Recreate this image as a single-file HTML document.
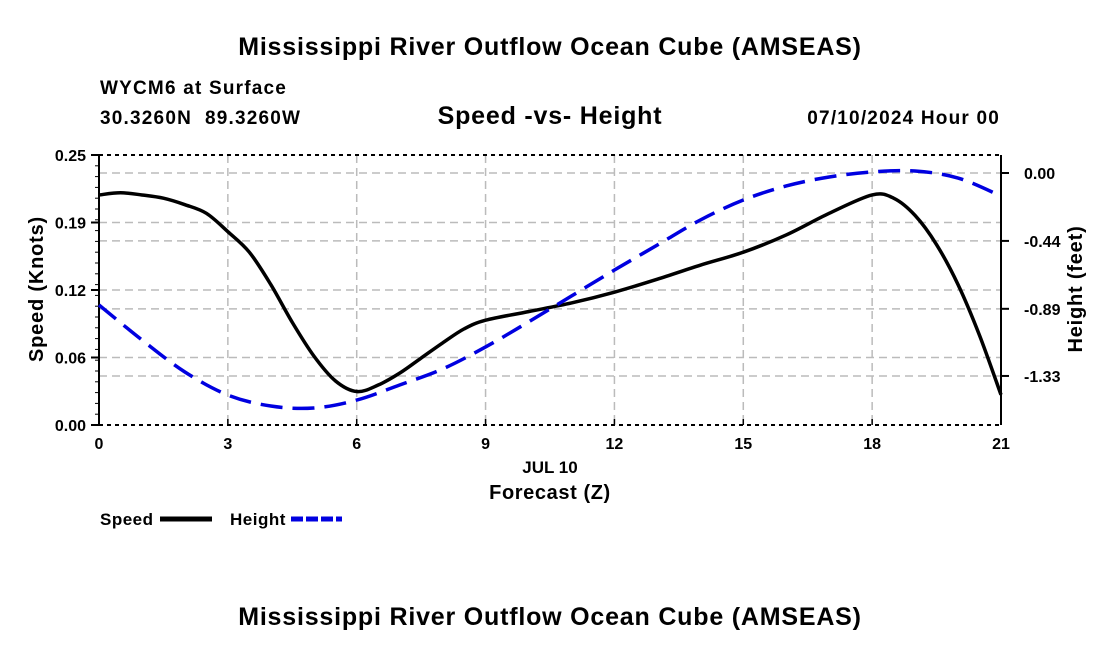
<!DOCTYPE html>
<html><head><meta charset="utf-8"><style>
body{margin:0;background:#fff;}
svg{display:block;font-family:"Liberation Sans",Arial,sans-serif;font-weight:bold;}
</style></head><body>
<svg id="chart" width="1100" height="650" viewBox="0 0 1100 650">
<text x="550" y="55" font-size="25" letter-spacing="0.8" text-anchor="middle">Mississippi River Outflow Ocean Cube (AMSEAS)</text>
<text x="100" y="94" font-size="19" letter-spacing="1.2">WYCM6 at Surface</text>
<text x="100" y="124" font-size="19" letter-spacing="1.2" xml:space="preserve" style="white-space:pre">30.3260N  89.3260W</text>
<text x="550" y="124" font-size="25" letter-spacing="0.8" text-anchor="middle">Speed -vs- Height</text>
<text x="1000" y="124" font-size="19" letter-spacing="1.2" text-anchor="end">07/10/2024 Hour 00</text>
<g id="grid"></g>
<g id="axes"></g>
<g id="series"></g>
<text x="550" y="473" font-size="17" text-anchor="middle">JUL 10</text>
<text x="550" y="499" font-size="20" letter-spacing="0.6" text-anchor="middle">Forecast (Z)</text>
<text transform="translate(43,289) rotate(-90)" font-size="20" letter-spacing="0.8" text-anchor="middle">Speed (Knots)</text>
<text transform="translate(1082,289) rotate(-90)" font-size="20" letter-spacing="0.8" text-anchor="middle">Height (feet)</text>
<g><text x="100" y="525" font-size="17" letter-spacing="0.5">Speed</text><line x1="160" y1="519" x2="212" y2="519" stroke="#000" stroke-width="5"/></g>
<g><text x="230" y="525" font-size="17" letter-spacing="0.5">Height</text><line x1="291" y1="519" x2="342" y2="519" stroke="#0000e0" stroke-width="5" stroke-dasharray="12,3"/></g>
<text x="550" y="625" font-size="25" letter-spacing="0.8" text-anchor="middle">Mississippi River Outflow Ocean Cube (AMSEAS)</text>
</svg>
<script>
const hours=[0,0.5,1,1.5,2,2.5,3,3.5,4,4.5,5,5.5,6,6.5,7,7.5,8,8.5,9,10,11,12,13,14,15,16,17,18,18.5,19,19.5,20,20.5,21];
const speed=[0.213,0.215,0.213,0.210,0.204,0.196,0.179,0.160,0.130,0.095,0.064,0.041,0.031,0.037,0.048,0.062,0.076,0.089,0.097,0.105,0.113,0.123,0.135,0.148,0.160,0.176,0.196,0.213,0.210,0.194,0.167,0.130,0.083,0.028];
const heightHours=[0,1,2,3,4,5,6,7,8,9,10,11,12,13,14,15,16,17,18,19,20,21];
const heightFt=[-0.865,-1.094,-1.304,-1.455,-1.527,-1.54,-1.488,-1.389,-1.284,-1.14,-0.976,-0.806,-0.636,-0.472,-0.308,-0.177,-0.085,-0.026,0.007,0.013,-0.033,-0.151];
const xTicks=[0,3,6,9,12,15,18,21];
const leftTicks=[0,0.0625,0.125,0.1875,0.25];
const leftLabels=["0.00","0.06","0.12","0.19","0.25"];
const rightTicks=[0,-0.445,-0.89,-1.33];
const rightLabels=["0.00","-0.44","-0.89","-1.33"];
const X0=99,X1=1001,Y0=425,Y1=155;
const xs=h=>X0+h/21*(X1-X0);
const yL=v=>Y0-v/0.25*(Y0-Y1);
const yR=v=>173-v*152.6;
const NS="http://www.w3.org/2000/svg";
function mk(parent,tag,attrs){const e=document.createElementNS(NS,tag);for(const k in attrs)e.setAttribute(k,attrs[k]);document.getElementById(parent).appendChild(e);return e;}
function smooth(pts){let d='M'+pts[0][0]+','+pts[0][1];for(let i=0;i<pts.length-1;i++){const p0=pts[Math.max(i-1,0)],p1=pts[i],p2=pts[i+1],p3=pts[Math.min(i+2,pts.length-1)];
const c1x=p1[0]+(p2[0]-p0[0])/6,c1y=p1[1]+(p2[1]-p0[1])/6,c2x=p2[0]-(p3[0]-p1[0])/6,c2y=p2[1]-(p3[1]-p1[1])/6;d+=' C'+c1x+','+c1y+' '+c2x+','+c2y+' '+p2[0]+','+p2[1];}return d;}
for(const h of xTicks){
 if(h>0&&h<21){const l=mk('grid','line',{x1:xs(h),x2:xs(h),y1:Y1,y2:Y0,stroke:'#bbb','stroke-width':1.5,'stroke-dasharray':'8,5'});
 
 }
 const t=mk('axes','text',{x:xs(h),y:Y0+24,'font-size':16,'text-anchor':'middle'});t.textContent=h;
 
 
 mk('axes','line',{x1:xs(h),x2:xs(h),y1:Y0,y2:Y0-6,stroke:'#000','stroke-width':1.5});
}
leftTicks.forEach((v,i)=>{
 if(i>0&&i<4){const l=mk('grid','line',{x1:X0,x2:X1,y1:yL(v),y2:yL(v),stroke:'#bbb','stroke-width':1.5,'stroke-dasharray':'8,5'});
 
 }
 const t=mk('axes','text',{x:X0-13,y:yL(v)+6,'font-size':16,'text-anchor':'end'});t.textContent=leftLabels[i];
 
 
 mk('axes','line',{x1:X0-8,x2:X0,y1:yL(v),y2:yL(v),stroke:'#000','stroke-width':2});
});
for(let k=0;k<=25;k++){const y=Y0-k*(Y0-Y1)/25;mk('axes','line',{x1:X0-4,x2:X0,y1:y,y2:y,stroke:'#000','stroke-width':1});}
rightTicks.forEach((v,i)=>{
 const l=mk('grid','line',{x1:X0,x2:X1,y1:yR(v),y2:yR(v),stroke:'#bbb','stroke-width':1.5,'stroke-dasharray':'8,5'});
 
 
 const t=mk('axes','text',{x:X1+23,y:yR(v)+6,'font-size':16});t.textContent=rightLabels[i];
 
 
 mk('axes','line',{x1:X1,x2:X1+8,y1:yR(v),y2:yR(v),stroke:'#000','stroke-width':2});
});
mk('axes','line',{x1:X0,x2:X1,y1:Y1,y2:Y1,stroke:'#000','stroke-width':2,'stroke-dasharray':'4,4'});
mk('axes','line',{x1:X0,x2:X1,y1:Y0,y2:Y0,stroke:'#000','stroke-width':2,'stroke-dasharray':'4,4'});
mk('axes','line',{x1:X0,x2:X0,y1:Y1,y2:Y0,stroke:'#000','stroke-width':2});
mk('axes','line',{x1:X1,x2:X1,y1:Y1,y2:Y0,stroke:'#000','stroke-width':2});
const sp=mk('series','path',{d:smooth(hours.map((h,i)=>[xs(h),yL(speed[i])])),fill:'none',stroke:'#000','stroke-width':3.5,'stroke-linejoin':'round'});


const hp=mk('series','path',{d:smooth(heightHours.map((h,i)=>[xs(h),yR(heightFt[i])])),fill:'none',stroke:'#0000e0','stroke-width':3.5,'stroke-dasharray':'22,10'});


</script>
</body></html>
